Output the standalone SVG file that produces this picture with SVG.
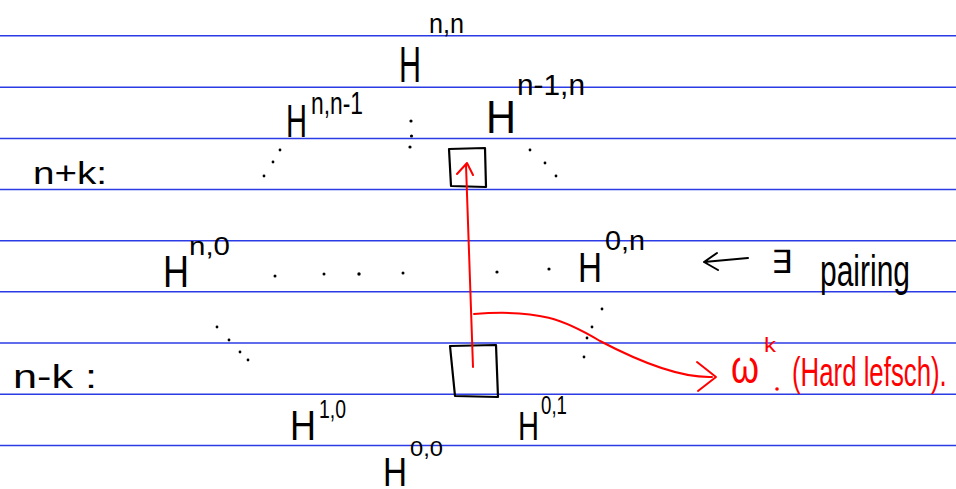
<svg xmlns="http://www.w3.org/2000/svg" width="956" height="489" viewBox="0 0 956 489">
<defs>
<style>
.rule{stroke:#2b3be6;stroke-width:1.6}
.t{font-family:"Liberation Sans",Arial,sans-serif;fill:#000}
.r{font-family:"Liberation Sans",Arial,sans-serif;fill:#f00}
.dot{fill:#000}
.box{fill:none;stroke:#000;stroke-width:2.2;stroke-linejoin:round}
.red{fill:none;stroke:#f00;stroke-width:2;stroke-linecap:round;stroke-linejoin:round}
.blk{fill:none;stroke:#000;stroke-width:2;stroke-linecap:round;stroke-linejoin:round}
</style>
</defs>
<rect width="956" height="489" fill="#fff"/>
<g id="rules">
<line class="rule" x1="0" y1="35.7" x2="956" y2="35.7"/>
<line class="rule" x1="0" y1="87.3" x2="956" y2="87.3"/>
<line class="rule" x1="0" y1="138.5" x2="956" y2="138.5"/>
<line class="rule" x1="0" y1="189.5" x2="956" y2="189.5"/>
<line class="rule" x1="0" y1="240.7" x2="956" y2="240.7"/>
<line class="rule" x1="0" y1="291.7" x2="956" y2="291.7"/>
<line class="rule" x1="0" y1="343" x2="956" y2="343"/>
<line class="rule" x1="0" y1="394.3" x2="956" y2="394.3"/>
<line class="rule" x1="0" y1="445.5" x2="956" y2="445.5"/>
</g>
<g id="label-npk"><text class="t" x="33" y="184" font-size="32" textLength="74" lengthAdjust="spacingAndGlyphs">n+k:</text></g>
<g id="label-nmk"><text class="t" x="13" y="388" font-size="34" textLength="84" lengthAdjust="spacingAndGlyphs">n-k :</text></g>
<g id="H-nn">
<text class="t" x="399" y="82" font-size="50" textLength="22" lengthAdjust="spacingAndGlyphs">H</text>
<text class="t" x="429" y="33" font-size="28" textLength="35" lengthAdjust="spacingAndGlyphs">n,n</text>
</g>
<g id="H-nn-1">
<text class="t" x="286" y="137" font-size="46" textLength="21" lengthAdjust="spacingAndGlyphs">H</text>
<text class="t" x="311" y="114" font-size="32" textLength="52" lengthAdjust="spacingAndGlyphs">n,n-1</text>
</g>
<g id="H-n-1n">
<text class="t" x="486" y="133" font-size="46" textLength="30" lengthAdjust="spacingAndGlyphs">H</text>
<text class="t" x="517" y="95" font-size="30" textLength="68" lengthAdjust="spacingAndGlyphs">n-1,n</text>
</g>
<g id="H-n0">
<text class="t" x="163" y="287" font-size="44" textLength="26" lengthAdjust="spacingAndGlyphs">H</text>
<text class="t" x="189" y="255" font-size="26" textLength="41" lengthAdjust="spacingAndGlyphs">n,0</text>
</g>
<g id="H-0n">
<text class="t" x="578" y="282" font-size="42" textLength="24" lengthAdjust="spacingAndGlyphs">H</text>
<text class="t" x="605" y="250" font-size="28" textLength="40" lengthAdjust="spacingAndGlyphs">0,n</text>
</g>
<g id="H-10">
<text class="t" x="290" y="440" font-size="42" textLength="26" lengthAdjust="spacingAndGlyphs">H</text>
<text class="t" x="319" y="418" font-size="26" textLength="27" lengthAdjust="spacingAndGlyphs">1,0</text>
</g>
<g id="H-00">
<text class="t" x="383" y="486" font-size="40" textLength="24" lengthAdjust="spacingAndGlyphs">H</text>
<text class="t" x="410" y="456" font-size="22" textLength="33" lengthAdjust="spacingAndGlyphs">0,0</text>
</g>
<g id="H-01">
<text class="t" x="518" y="440" font-size="40" textLength="21" lengthAdjust="spacingAndGlyphs">H</text>
<text class="t" x="541" y="414" font-size="26" textLength="26" lengthAdjust="spacingAndGlyphs">0,1</text>
</g>
<g id="box-top"><path class="box" d="M449,149 L485,148 L486,187 L451,186 Z"/></g>
<g id="box-bottom"><path class="box" d="M450,346 L496,345 L498,397 L455,396 Z"/></g>
<g id="pairing-note">
<path class="blk" d="M748,258 L704,262 M717,253 L704,262 L718,270"/>
<text class="t" x="771" y="273" font-size="32" textLength="21" lengthAdjust="spacingAndGlyphs">∃</text>
<text class="t" x="820" y="286" font-size="44" textLength="90" lengthAdjust="spacingAndGlyphs">pairing</text>
</g>
<g id="hard-lefschetz">
<text class="r" x="731" y="383" font-size="46" textLength="28" lengthAdjust="spacingAndGlyphs">ω</text>
<text class="r" x="764" y="352" font-size="20" textLength="12" lengthAdjust="spacingAndGlyphs">k</text>
<circle cx="777" cy="389" r="1.8" fill="#f00"/>
<text class="r" font-size="30" transform="translate(792,386) scale(0.86,1.35)">(Hard lefsch).</text>
</g>
<g id="dots" class="dot">
<circle cx="411" cy="121" r="1.6"/><circle cx="411.5" cy="136" r="1.6"/><circle cx="410" cy="147" r="1.6"/>
<circle cx="280" cy="150" r="1.4"/><circle cx="273" cy="162" r="1.4"/><circle cx="264" cy="176" r="1.4"/>
<circle cx="530" cy="150" r="1.4"/><circle cx="545" cy="163" r="1.4"/><circle cx="556" cy="176" r="1.4"/>
<circle cx="275" cy="276" r="1.5"/><circle cx="324" cy="274" r="1.5"/><circle cx="359" cy="274" r="1.7"/><circle cx="403" cy="273" r="1.5"/><circle cx="497" cy="272" r="1.6"/><circle cx="549" cy="269" r="1.6"/>
<circle cx="217" cy="327" r="1.4"/><circle cx="229" cy="340" r="1.4"/><circle cx="240" cy="352" r="1.4"/><circle cx="248" cy="360" r="1.4"/>
<circle cx="602" cy="309" r="1.4"/><circle cx="592" cy="327" r="1.4"/><circle cx="587" cy="338" r="1.4"/><circle cx="584" cy="357" r="1.4"/>
</g>
<g id="connectors">
<path class="red" d="M473,367 L466,165 M457,174 L467,163 L473,175"/>
<path class="red" d="M474,314 C540,309 565,320 600,341 C640,362 680,378 712,377"/>
<path class="red" d="M697,362 L716,377 L698,391"/>
</g>
</svg>
